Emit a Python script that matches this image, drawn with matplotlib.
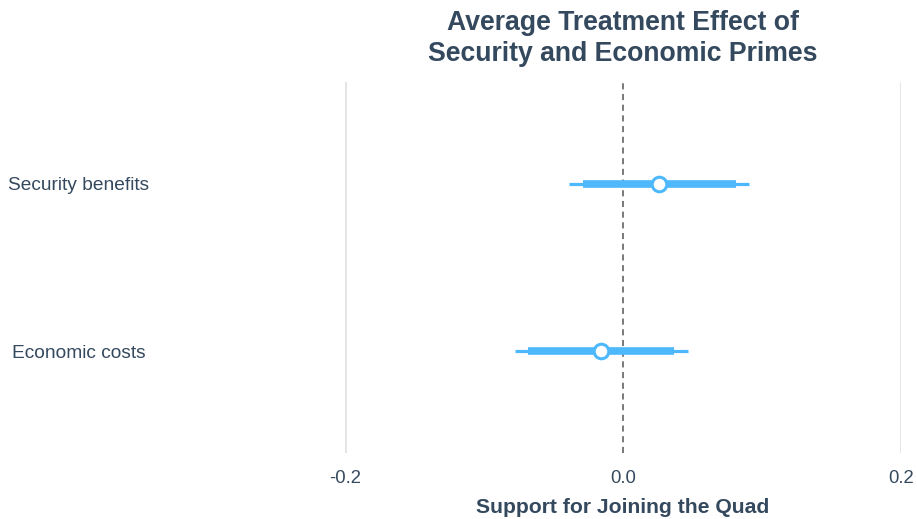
import numpy as np
import matplotlib.pyplot as plt
from matplotlib.transforms import blended_transform_factory

plt.rcParams['font.family'] = ['Liberation Sans', 'DejaVu Sans']

# estimates
labels = ['Economic costs', 'Security benefits']
estimate = [-0.016, 0.026]
ci90_low = [-0.068, -0.029]
ci90_high = [0.037, 0.081]
ci95_low = [-0.078, -0.039]
ci95_high = [0.047, 0.091]

text_col = '#34495e'
blue = '#4db8fb'

fig = plt.figure(figsize=(9.17, 5.19), dpi=100)
ax = fig.add_axes([0.3762, 0.1272, 0.6063, 0.7148])

ypos = np.arange(1, len(labels) + 1)

for x in [-0.2, 0.2]:
    ax.axvline(x, color='#e3e3e3', lw=2, zorder=0)
ax.axvline(0, color='#555555', lw=1.1, ls=(0, (4, 3)), zorder=1)

ax.hlines(ypos, ci95_low, ci95_high, color=blue, lw=2.3, zorder=2)
ax.hlines(ypos, ci90_low, ci90_high, color=blue, lw=5.5, zorder=3)
ax.plot(estimate, ypos, 'o', ms=10.5, mfc='white', mec=blue, mew=2.2, zorder=4)

ax.set_xlim(-0.2, 0.2)
ax.set_ylim(0.395, 2.605)
ax.set_xticks([-0.2, 0.0, 0.2])
ax.set_xticklabels(['-0.2', '0.0', '0.2'])
ax.set_yticks([])
for s in ax.spines.values():
    s.set_visible(False)
ax.tick_params(axis='x', length=0, pad=12, labelsize=13.3, labelcolor=text_col)

# category labels sit centred far left of the plot area
tr = blended_transform_factory(fig.transFigure, ax.transData)
for y, lab in zip(ypos, labels):
    ax.text(79 / 917, y, lab, transform=tr, ha='center', va='center_baseline',
            fontsize=13.8, color=text_col)

ax.set_xlabel('Support for Joining the Quad', fontsize=15.2, fontweight='bold',
              color=text_col, labelpad=8)
ax.set_title('Average Treatment Effect of\nSecurity and Economic Primes',
             fontsize=19.2, fontweight='bold', color=text_col, pad=15,
             linespacing=1.25)

fig.savefig('out.png', dpi=100)
